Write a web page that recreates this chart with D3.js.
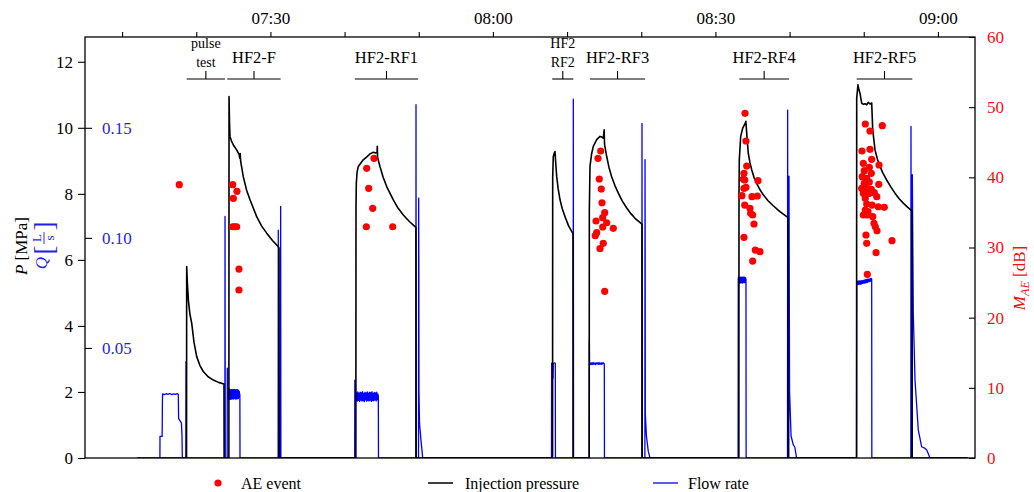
<!DOCTYPE html>
<html>
<head>
<meta charset="utf-8">
<script src="https://cdn.jsdelivr.net/npm/d3@7"></script>
<style>
  body { margin: 0; background: #fff; }
  svg text { font-family: "Liberation Serif", "Times New Roman", serif; }
</style>
</head>
<body>
<svg id="chart" width="1034" height="492"></svg>
<script>
// Times are minutes after 07:00.
const pressure = [
  [12.0,0],[18.69,0],[18.71,5.80],[18.80,5.30],[18.95,4.75],[19.15,4.35],[19.39,4.08],[19.70,3.50],[20.06,3.07],[20.50,2.80],[20.95,2.62],[21.60,2.46],[22.30,2.36],[23.00,2.29],[23.74,2.24],[23.76,0],
  [24.40,0],[24.42,10.95],[24.48,10.20],[24.55,9.74],[24.75,9.60],[25.00,9.48],[25.45,9.33],[25.80,9.18],[25.86,9.08],[25.92,9.22],[25.99,8.98],[26.34,8.52],[26.80,8.10],[27.25,7.82],[28.15,7.31],[28.80,7.03],[29.50,6.81],[30.30,6.58],[31.06,6.40],[31.16,6.36],[31.18,0],
  [41.52,0],[41.54,7.60],[41.58,8.30],[41.68,8.65],[41.85,8.83],[42.52,9.03],[43.00,9.12],[43.43,9.21],[43.87,9.26],[44.20,9.24],[44.38,9.25],[44.41,9.44],[44.45,9.10],[44.77,8.83],[45.20,8.50],[45.68,8.22],[46.57,7.82],[47.20,7.57],[47.92,7.36],[48.70,7.17],[49.49,7.01],[49.62,6.98],[49.64,0],
  [68.04,0],[68.06,8.50],[68.14,9.13],[68.30,9.25],[68.37,9.28],[68.45,9.00],[68.60,8.52],[68.80,8.15],[69.05,7.82],[69.35,7.55],[69.72,7.31],[70.20,7.03],[70.76,6.81],[70.80,6.78],[70.82,0],
  [72.98,0],[73.00,7.50],[73.09,8.83],[73.30,9.20],[73.53,9.44],[73.99,9.64],[74.44,9.74],[74.70,9.72],[74.88,9.69],[75.00,9.94],[75.05,9.50],[75.34,9.13],[75.65,8.80],[76.01,8.52],[76.45,8.25],[76.91,8.02],[77.45,7.78],[78.04,7.57],[78.60,7.40],[79.16,7.26],[80.06,7.09],[80.10,7.08],[80.12,0],
  [93.16,0],[93.18,8.00],[93.22,9.03],[93.41,9.74],[93.68,9.99],[94.03,10.14],[94.10,10.20],[94.22,9.84],[94.43,9.23],[94.65,8.95],[94.89,8.73],[95.20,8.50],[95.56,8.32],[96.00,8.13],[96.45,7.97],[97.10,7.79],[97.80,7.64],[98.70,7.46],[99.61,7.31],[99.79,7.28],[99.81,0],
  [109.03,0],[109.05,10.90],[109.22,11.30],[109.35,11.15],[109.49,11.05],[109.72,10.75],[109.95,10.71],[110.17,10.73],[110.40,10.70],[110.61,10.77],[110.85,10.72],[111.07,10.75],[111.21,9.94],[111.52,9.33],[111.85,9.05],[112.19,8.83],[112.60,8.62],[113.09,8.42],[113.65,8.21],[114.21,8.02],[114.75,7.86],[115.33,7.72],[115.90,7.60],[116.46,7.49],[116.50,7.47],[116.52,0],[124,0]
];

// Flow rate in L/s
const flowRate = [
  [14.9,0],[15.10,0],[15.11,0.0098],[15.40,0.0098],[15.44,0.0260],[15.47,0.0291],[15.70,0.0288],[15.95,0.0292],[16.20,0.0289],[16.45,0.0293],[16.70,0.0288],[16.95,0.0291],[17.20,0.0289],[17.45,0.0292],[17.58,0.0289],[17.62,0.0180],[17.80,0.0170],[18.00,0.0160],[18.08,0.0100],[18.12,0],
  [18.60,0],[18.62,0.0438],[18.64,0],
  [23.86,0],[23.88,0.1097],[23.91,0],[24.17,0],[24.19,0.0408],[24.24,0.0265],[24.28,0.0300],
  [24.32,0.0270],[24.36,0.0310],[24.40,0.0268],[24.44,0.0306],[24.48,0.0274],[24.52,0.0313],[24.56,0.0266],[24.60,0.0308],[24.64,0.0272],[24.68,0.0311],[24.72,0.0267],[24.76,0.0305],[24.80,0.0275],[24.84,0.0312],[24.88,0.0269],[24.92,0.0304],[24.96,0.0273],[25.00,0.0310],[25.04,0.0268],[25.08,0.0307],[25.12,0.0274],[25.16,0.0312],[25.20,0.0270],[25.24,0.0305],[25.28,0.0276],[25.32,0.0309],[25.36,0.0267],[25.40,0.0311],[25.44,0.0272],[25.48,0.0306],[25.52,0.0269],[25.56,0.0310],[25.60,0.0275],[25.64,0.0304],[25.68,0.0270],[25.72,0.0308],[25.76,0.0277],[25.80,0.0302],[25.84,0.0280],[25.88,0.0290],[25.90,0],
  [31.04,0],[31.06,0.1035],[31.09,0],[31.36,0],[31.38,0.1143],[31.41,0],
  [41.36,0],[41.38,0.0354],[41.42,0.0270],
  [41.46,0.0298],[41.54,0.0260],[41.62,0.0296],[41.70,0.0258],[41.78,0.0300],[41.86,0.0262],[41.94,0.0295],[42.02,0.0257],[42.10,0.0299],[42.18,0.0263],[42.26,0.0297],[42.34,0.0259],[42.42,0.0301],[42.50,0.0261],[42.58,0.0294],[42.66,0.0256],[42.74,0.0298],[42.82,0.0264],[42.90,0.0296],[42.98,0.0258],[43.06,0.0300],[43.14,0.0262],[43.22,0.0295],[43.30,0.0259],[43.38,0.0299],[43.46,0.0263],[43.54,0.0297],[43.62,0.0257],[43.70,0.0301],[43.78,0.0261],[43.86,0.0294],[43.94,0.0260],[44.02,0.0298],[44.10,0.0264],[44.18,0.0296],[44.26,0.0259],[44.34,0.0299],[44.42,0.0265],[44.50,0.0290],[44.55,0.0280],[44.57,0],
  [49.61,0],[49.63,0.1605],[49.66,0],[49.97,0],[49.99,0.1180],[50.01,0.0900],[50.03,0.0300],[50.10,0.0160],[50.30,0.0080],[50.45,0.0030],[50.53,0],
  [67.90,0],[67.92,0.0430],[68.00,0.0432],[68.06,0.0430],[68.09,0.0360],[68.13,0.0430],[68.25,0.0431],[68.35,0.0432],[68.41,0.0430],[68.43,0],
  [70.82,0],[70.84,0.1630],[70.87,0],
  [72.98,0],[73.00,0.0537],[73.03,0.0428],
  [73.10,0.0433],[73.20,0.0424],[73.30,0.0432],[73.40,0.0425],[73.50,0.0434],[73.60,0.0426],[73.70,0.0431],[73.80,0.0424],[73.90,0.0433],[74.00,0.0427],[74.10,0.0432],[74.20,0.0425],[74.30,0.0434],[74.40,0.0426],[74.50,0.0431],[74.60,0.0425],[74.70,0.0433],[74.80,0.0427],[74.90,0.0432],[75.00,0.0428],[75.02,0.0428],[75.04,0],
  [80.08,0],[80.10,0.1520],[80.13,0],[80.49,0],[80.51,0.1355],[80.53,0.0940],[80.55,0.0200],[80.70,0.0100],[80.95,0.0030],[81.18,0],
  [93.06,0],[93.08,0.0816],
  [93.12,0.0822],[93.16,0.0796],[93.20,0.0820],[93.24,0.0797],[93.28,0.0821],[93.32,0.0795],[93.36,0.0819],[93.40,0.0798],[93.44,0.0822],[93.48,0.0796],[93.52,0.0820],[93.56,0.0799],[93.60,0.0821],[93.64,0.0795],[93.68,0.0819],[93.72,0.0797],[93.76,0.0822],[93.80,0.0798],[93.84,0.0820],[93.88,0.0796],[93.92,0.0821],[93.96,0.0799],[94.00,0.0819],[94.04,0.0797],[94.08,0.0818],[94.12,0.0810],[94.14,0],
  [99.72,0],[99.74,0.1580],[99.77,0],[99.90,0],[99.92,0.1280],[99.95,0.0900],[100.00,0.0300],[100.20,0.0100],[100.50,0.0060],[100.70,0.0050],[100.95,0],
  [109.03,0],[109.05,0.0795],
  [109.10,0.0802],[109.16,0.0788],[109.22,0.0803],[109.28,0.0789],[109.34,0.0804],[109.40,0.0790],[109.46,0.0805],[109.52,0.0789],[109.58,0.0804],[109.64,0.0791],[109.70,0.0806],[109.76,0.0792],[109.82,0.0805],[109.88,0.0793],[109.94,0.0807],[110.00,0.0794],[110.06,0.0808],[110.12,0.0795],[110.18,0.0809],[110.24,0.0796],[110.30,0.0810],[110.36,0.0797],[110.42,0.0811],[110.48,0.0798],[110.54,0.0812],[110.60,0.0800],[110.66,0.0813],[110.72,0.0801],[110.78,0.0814],[110.84,0.0803],[110.90,0.0815],[110.96,0.0804],[111.02,0.0816],[111.05,0.0815],[111.07,0.0810],[111.09,0],
  [116.35,0],[116.37,0.1506],[116.40,0],[116.53,0],[116.55,0.1287],[116.68,0.0657],[116.91,0.0354],[117.35,0.0128],[117.81,0.0051],[118.20,0.0045],[118.49,0.0036],[118.84,0.0008],[118.90,0],[124,0]
];

// Acoustic emission events: [minute, magnitude dB]
const aeEvents = [
  [17.71,38.95],[24.91,38.95],[25.49,38.00],[25.00,37.00],[24.91,32.96],[25.18,32.96],[25.45,32.96],[25.76,26.93],[25.76,23.94],
  [43.97,42.71],[42.98,41.28],[43.25,38.43],[43.79,35.59],[42.93,32.96],[46.49,32.96],
  [74.53,43.75],[74.17,42.71],[74.34,39.76],[74.61,38.33],[74.71,36.38],[75.07,34.96],[74.80,34.25],[73.90,33.78],[75.34,33.53],[74.80,32.92],[76.23,32.73],[73.99,32.11],[73.80,31.68],[74.88,30.60],[74.44,29.83],[75.07,23.75],
  [93.99,49.12],[94.12,45.18],[94.22,41.61],[93.85,40.57],[93.76,39.76],[93.95,39.62],[95.74,39.52],[93.85,38.43],[94.12,38.57],[93.58,37.38],[94.93,37.24],[95.65,37.34],[93.95,36.05],[94.66,35.59],[94.75,34.87],[95.02,34.63],[95.20,33.35],[93.85,31.45],[95.38,29.64],[96.01,29.40],[95.02,28.07],
  [110.21,47.60],[112.50,47.36],[110.84,46.60],[109.76,43.75],[110.84,43.99],[111.07,42.57],[109.94,42.00],[110.75,41.43],[112.06,41.76],[110.07,40.95],[111.02,40.57],[109.80,40.09],[110.40,39.86],[110.07,39.15],[110.75,39.33],[112.02,39.00],[109.72,38.43],[110.40,38.43],[111.02,38.29],[109.94,37.72],[110.75,37.72],[111.42,37.81],[110.21,37.00],[111.75,37.24],[110.40,36.20],[111.12,36.05],[111.96,35.81],[112.77,35.72],[110.21,35.34],[110.57,35.10],[109.94,34.63],[110.44,34.63],[111.21,34.39],[111.38,33.45],[111.56,32.96],[111.79,32.39],[110.30,31.78],[113.81,30.97],[110.40,30.60],[111.66,29.26],[110.48,26.18]
];

// Test intervals
const testLabels = [["pulse","test"],["HF2-F"],["HF2-RF1"],["HF2","RF2"],["HF2-RF3"],["HF2-RF4"],["HF2-RF5"]];
const testStart = [18.71, 24.19, 41.38, 68.00, 73.09, 93.22, 109.05];
const testEnd   = [23.88, 31.38, 49.92, 70.84, 80.51, 99.92, 116.55];

// Axis ticks
const timeTicks = [10,20,30,40,50,60,70,80,90,100,110,120];
const timeLabels = {30:"07:30", 60:"08:00", 90:"08:30", 120:"09:00"};
const pTicks = [0,2,4,6,8,10,12];
const qTicks = [0.05,0.10,0.15];
const mTicks = [0,10,20,30,40,50,60];

const BLUE = "#0000ff", RED = "#ff0000", RED_TXT = "#ee1111", BLUE_TXT = "#1f1fe6";
const base = new Date(2000, 0, 1, 7, 0, 0).getTime();
const T = m => new Date(base + m * 60000);

const L = 85, R = 975, TOP = 37, BOT = 458;
const svg = d3.select("#chart");

const x  = d3.scaleTime().domain([T(5), T(125)]).range([L, R]);
const yP = d3.scaleLinear().domain([0, 12.75]).range([BOT, TOP]);
const yQ = d3.scaleLinear().domain([0, 12.75 * 0.015]).range([BOT, TOP]);
const yM = d3.scaleLinear().domain([0, 60]).range([BOT, TOP]);

svg.append("defs").append("clipPath").attr("id", "plotclip")
  .append("rect").attr("x", L).attr("y", TOP).attr("width", R - L).attr("height", BOT - TOP);

const plot = svg.append("g").attr("clip-path", "url(#plotclip)");

// flow rate
plot.append("path")
  .datum(flowRate)
  .attr("fill", "none").attr("stroke", BLUE).attr("stroke-width", 1.3)
  .attr("stroke-linejoin", "round")
  .attr("d", d3.line().x(d => x(T(d[0]))).y(d => yQ(d[1])));

// injection pressure
plot.append("path")
  .datum(pressure)
  .attr("fill", "none").attr("stroke", "#000").attr("stroke-width", 1.6)
  .attr("stroke-linejoin", "round")
  .attr("d", d3.line().x(d => x(T(d[0]))).y(d => yP(d[1])));

// AE events
plot.selectAll("circle.ae").data(aeEvents).join("circle")
  .attr("class", "ae")
  .attr("cx", d => x(T(d[0]))).attr("cy", d => yM(d[1]))
  .attr("r", 3.6).attr("fill", RED);

// frame
svg.append("rect").attr("x", L).attr("y", TOP).attr("width", R - L).attr("height", BOT - TOP)
  .attr("fill", "none").attr("stroke", "#000").attr("stroke-width", 1.3);

function styleAxis(g, color) {
  g.select(".domain").remove();
  g.selectAll(".tick line").attr("stroke", "#000").attr("stroke-width", 1.1);
  g.selectAll(".tick text").attr("fill", color).attr("font-size", 17)
    .attr("font-family", "Liberation Serif, Times New Roman, serif");
}

// top time axis
svg.append("g").attr("transform", `translate(0,${TOP})`)
  .call(d3.axisTop(x).tickValues(timeTicks.map(T)).tickSize(5).tickPadding(8)
    .tickFormat(d => timeLabels[Math.round((d.getTime() - base) / 60000)] || ""))
  .call(g => styleAxis(g, "#000"));

// left pressure axis
svg.append("g").attr("transform", `translate(${L},0)`)
  .call(d3.axisLeft(yP).tickValues(pTicks).tickSize(7).tickPadding(5).tickFormat(d3.format("d")))
  .call(g => styleAxis(g, "#000"));

// flow-rate ticks (inside)
svg.append("g").attr("transform", `translate(${L},0)`)
  .call(d3.axisRight(yQ).tickValues(qTicks).tickSize(7).tickPadding(10).tickFormat(d3.format(".2f")))
  .call(g => styleAxis(g, BLUE_TXT));

// right AE magnitude axis
svg.append("g").attr("transform", `translate(${R},0)`)
  .call(d3.axisRight(yM).tickValues(mTicks).tickSize(-6).tickPadding(12).tickFormat(d3.format("d")))
  .call(g => styleAxis(g, RED_TXT));

// test brackets
const brY = 79;
testLabels.forEach((lines, i) => {
  const x0 = x(T(testStart[i])), x1 = x(T(testEnd[i])), xm = (x0 + x1) / 2;
  svg.append("line").attr("x1", x0).attr("x2", x1).attr("y1", brY).attr("y2", brY)
    .attr("stroke", "#000").attr("stroke-width", 1.1);
  svg.append("line").attr("x1", xm).attr("x2", xm).attr("y1", brY).attr("y2", brY - 8)
    .attr("stroke", "#000").attr("stroke-width", 1.1);
  if (lines.length === 1) {
    svg.append("text").attr("x", xm).attr("y", 63).attr("text-anchor", "middle")
      .attr("font-size", 16.5).text(lines[0]);
  } else {
    lines.forEach((s, k) => {
      svg.append("text").attr("x", xm).attr("y", 48 + k * 19).attr("text-anchor", "middle")
        .attr("font-size", 14).text(s);
    });
  }
});

// left axis title: P [MPa] over Q [L/s]
const lt = svg.append("g").attr("transform", "translate(0,246) rotate(-90)");
const pt = lt.append("text").attr("x", 0).attr("y", 27).attr("text-anchor", "middle").attr("font-size", 17);
pt.append("tspan").attr("font-style", "italic").text("P");
pt.append("tspan").text(" [MPa]");
const qg = lt.append("g");
qg.append("text").attr("x", -17).attr("y", 47).attr("text-anchor", "middle").attr("font-size", 17)
  .attr("font-style", "italic").attr("fill", BLUE_TXT).text("Q");
qg.append("text").attr("x", -4).attr("y", 53).attr("text-anchor", "middle").attr("font-size", 27)
  .attr("fill", BLUE_TXT).text("[");
qg.append("text").attr("x", 8).attr("y", 41).attr("text-anchor", "middle").attr("font-size", 13)
  .attr("fill", BLUE_TXT).text("L");
qg.append("line").attr("x1", 2).attr("x2", 14).attr("y1", 44).attr("y2", 44)
  .attr("stroke", BLUE_TXT).attr("stroke-width", 0.9);
qg.append("text").attr("x", 8).attr("y", 54).attr("text-anchor", "middle").attr("font-size", 13)
  .attr("fill", BLUE_TXT).text("s");
qg.append("text").attr("x", 20).attr("y", 53).attr("text-anchor", "middle").attr("font-size", 27)
  .attr("fill", BLUE_TXT).text("]");

// right axis title
const rt = svg.append("text").attr("transform", "translate(1025,278) rotate(-90)")
  .attr("text-anchor", "middle").attr("font-size", 17).attr("fill", RED_TXT);
rt.append("tspan").attr("font-style", "italic").text("M");
rt.append("tspan").attr("font-style", "italic").attr("font-size", 12).attr("dy", 4).text("AE");
rt.append("tspan").attr("dy", -4).text(" [dB]");

// legend
const lg = svg.append("g").attr("font-size", 16);
lg.append("circle").attr("cx", 218).attr("cy", 483).attr("r", 3.6).attr("fill", RED);
lg.append("text").attr("x", 241).attr("y", 489).text("AE event");
lg.append("line").attr("x1", 428).attr("x2", 453).attr("y1", 483).attr("y2", 483)
  .attr("stroke", "#000").attr("stroke-width", 1.5);
lg.append("text").attr("x", 465).attr("y", 489).text("Injection pressure");
lg.append("line").attr("x1", 653).attr("x2", 678).attr("y1", 483).attr("y2", 483)
  .attr("stroke", BLUE).attr("stroke-width", 1.3);
lg.append("text").attr("x", 688).attr("y", 489).text("Flow rate");
</script>
</body>
</html>
